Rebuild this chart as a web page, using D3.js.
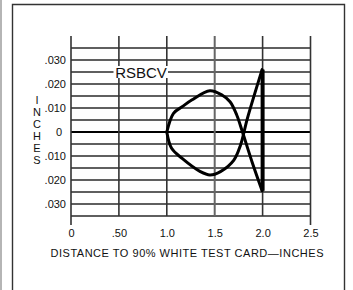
<!DOCTYPE html>
<html>
<head>
<meta charset="utf-8">
<script src="https://cdn.jsdelivr.net/npm/d3@7"></script>
<style>
  body { margin: 0; background: #fff; }
  text { font-family: "Liberation Sans", Arial, sans-serif; fill: #111; }
</style>
</head>
<body>
<div class="chart"></div>
<script>
// chart values
var xTicks = [0, 0.5, 1.0, 1.5, 2.0, 2.5]
var xTickLabels = ["0", ".50", "1.0", "1.5", "2.0", "2.5"]
var yTicks = [0.03, 0.02, 0.01, 0, -0.01, -0.02, -0.03]
var yTickLabels = [".030", ".020", ".010", "0", ".010", ".020", ".030"]
var yGrid = [0.035, 0.03, 0.025, 0.02, 0.015, 0.01, 0.005, 0, -0.005, -0.01, -0.015, -0.02, -0.025, -0.03, -0.035]

// upper branch: from 1.0 up over the hump, through the crossing, down to the foot at 2.0
var upperBranch = [[1.0, 0], [1.07, 0.0078], [1.16, 0.0105], [1.26, 0.0133], [1.45, 0.0172], [1.58, 0.0153], [1.66, 0.0126], [1.73, 0.0071], [1.79, 0], [1.89, -0.0125], [1.995, -0.0245]]
// lower branch: from 1.0 down under the dip, through the crossing, up to the top at 2.0
var lowerBranch = [[1.0, 0], [1.05, -0.0068], [1.16, -0.011], [1.35, -0.0165], [1.45, -0.0179], [1.56, -0.0165], [1.70, -0.0117], [1.77, -0.0054], [1.84, 0.0055], [1.995, 0.026]]
var verticalEdge = [[2.0, 0.026], [2.0, -0.0245]]

var width = 353, height = 290

var svg = d3.select(".chart")
  .append("svg")
    .attr("width", width)
    .attr("height", height)

// scan edge + frame
svg.append("rect").attr("x", 0).attr("y", 0).attr("width", 2).attr("height", height).attr("fill", "#b5b5b5")
svg.append("path")
  .attr("d", "M12.5," + height + "V4.5H344.5V" + height)
  .attr("fill", "none").attr("stroke", "#333").attr("stroke-width", 1.4)

var x = d3.scaleLinear().domain([0, 2.5]).range([71, 310.5])
var y = d3.scaleLinear().domain([-0.035, 0.035]).range([216, 48])

// horizontal grid
svg.append("g").selectAll("line")
  .data(yGrid)
  .enter().append("line")
    .attr("x1", x(0)).attr("x2", x(2.5))
    .attr("y1", function(d) { return y(d) }).attr("y2", function(d) { return y(d) })
    .attr("stroke", function(d) { return d == 0 ? "#000" : "#2a2a2a" })
    .attr("stroke-width", function(d) { return d == 0 ? 2.2 : 1.3 })

// vertical grid, the two outer ones run down a bit further
svg.append("g").selectAll("line")
  .data(xTicks)
  .enter().append("line")
    .attr("x1", function(d) { return x(d) }).attr("x2", function(d) { return x(d) })
    .attr("y1", 36)
    .attr("y2", function(d, i) { return (i == 0 || i == xTicks.length - 1) ? 225 : y(-0.035) })
    .attr("stroke", function(d) { return d == 1.5 ? "#666" : "#333" })
    .attr("stroke-width", function(d) { return d == 1.5 ? 2 : 1.6 })

// axes (labels only)
var yAxis = svg.append("g")
  .attr("transform", "translate(" + x(0) + ",0)")
  .call(d3.axisLeft(y).tickValues(yTicks).tickFormat(function(d, i) { return yTickLabels[i] }).tickSize(0).tickPadding(5))
yAxis.select(".domain").remove()
yAxis.selectAll("text")
  .style("font-size", "11px")
  .attr("dx", function(d) { return d == 0 ? "-4px" : null })

var xAxis = svg.append("g")
  .attr("transform", "translate(0,225)")
  .call(d3.axisBottom(x).tickValues(xTicks).tickFormat(function(d, i) { return xTickLabels[i] }).tickSize(0).tickPadding(4))
xAxis.select(".domain").remove()
xAxis.selectAll("text").style("font-size", "11px")

// axis titles
svg.append("text")
  .attr("x", 187).attr("y", 257)
  .attr("text-anchor", "middle")
  .attr("textLength", 273).attr("lengthAdjust", "spacing")
  .style("font-size", "11px")
  .text("DISTANCE TO 90% WHITE TEST CARD\u2014INCHES")

svg.append("text")
  .attr("text-anchor", "middle")
  .style("font-size", "11px")
  .selectAll("tspan")
  .data("INCHES".split(""))
  .enter().append("tspan")
    .attr("x", 37)
    .attr("y", function(d, i) { return 104 + i * 12 })
    .text(function(d) { return d })

// curve label sitting on the .025 grid line
svg.append("rect")
  .attr("x", 113.5).attr("y", y(0.025) - 6).attr("width", 54.5).attr("height", 12)
  .attr("fill", "#fff")
svg.append("text")
  .attr("x", 141).attr("y", y(0.025) + 5.5)
  .attr("text-anchor", "middle")
  .style("font-size", "15px")
  .text("RSBCV")

// the curve
var curveLine = d3.line()
  .x(function(d) { return x(d[0]) })
  .y(function(d) { return y(d[1]) })
  .curve(d3.curveCatmullRom.alpha(0.5))

svg.selectAll(".branch")
  .data([upperBranch, lowerBranch])
  .enter().append("path")
    .attr("class", "branch")
    .attr("d", curveLine)
    .attr("fill", "none")
    .attr("stroke", "#000")
    .attr("stroke-width", 3)
    .attr("stroke-linejoin", "round")
    .attr("stroke-linecap", "round")

svg.append("path")
  .attr("d", d3.line().x(function(d) { return x(d[0]) }).y(function(d) { return y(d[1]) })(verticalEdge))
  .attr("fill", "none")
  .attr("stroke", "#000")
  .attr("stroke-width", 4)
</script>
</body>
</html>
